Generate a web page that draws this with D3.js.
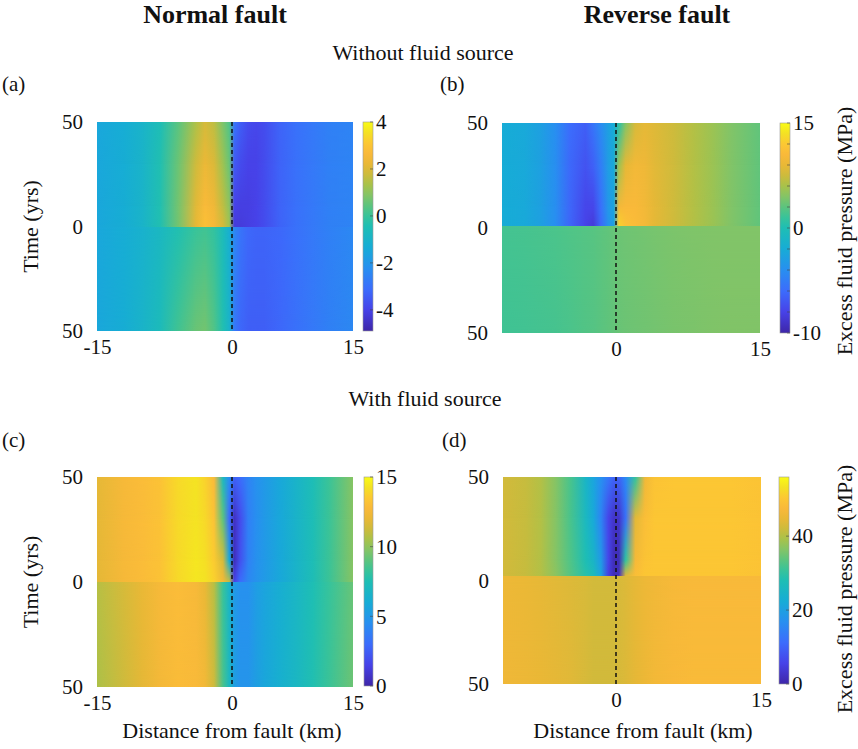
<!DOCTYPE html>
<html>
<head>
<meta charset="utf-8">
<script src="https://cdn.jsdelivr.net/npm/d3@7"></script>
<style>
  body { margin: 0; background: #fff; }
  text { font-family: "Liberation Serif", "Times New Roman", serif; fill: #111; }
</style>
</head>
<body>
<svg id="fig" width="858" height="749"></svg>
<script>
// parula colour map, [position, colour]
const parulaStops = [
  [0.0, "#3e26a8"], [0.1, "#4742e8"], [0.2, "#3c6cfc"], [0.3, "#288ff0"],
  [0.4, "#17acd6"], [0.5, "#1ebeb4"], [0.55, "#38c39a"], [0.6, "#5cc47e"],
  [0.65, "#84c466"], [0.7, "#a8c24a"], [0.75, "#cdbb3c"], [0.8, "#e9b836"],
  [0.85, "#f9b93a"], [0.9, "#fcc833"], [0.95, "#f4e124"], [1.0, "#f9fb15"]
];

// distance from fault (km) of every sampled column
const distanceKm = [-15, -12, -10, -8, -6, -4, -3, -2, -1, -0.3, 0.3, 1, 2, 3, 4, 6, 8, 10, 12, 15];

// (a) normal fault, without fluid source (MPa)
const aUpperTimes = [50, 30, 10, 0];
const aUpper = [
  [-1.5, -1.3, -1.0, -0.5, 0.4, 1.4, 1.9, 1.6, 0.8, 0.3, -2.9, -3.4, -3.8, -3.9, -3.8, -3.3, -3.0, -2.8, -2.6, -2.5],
  [-1.5, -1.3, -1.0, -0.4, 0.6, 1.8, 2.3, 2.0, 1.2, 0.6, -3.5, -3.8, -4.0, -4.0, -3.8, -3.3, -3.0, -2.8, -2.6, -2.5],
  [-1.5, -1.3, -1.0, -0.4, 0.7, 2.1, 2.7, 2.4, 1.6, 1.0, -4.0, -4.1, -4.1, -4.0, -3.8, -3.3, -3.0, -2.8, -2.6, -2.5],
  [-1.5, -1.3, -1.0, -0.4, 0.7, 2.2, 2.9, 2.6, 1.9, 1.2, -4.2, -4.2, -4.1, -4.0, -3.8, -3.3, -3.0, -2.8, -2.6, -2.5]
];
const aLowerTimes = [0, -50];
const aLower = [
  [-1.5, -1.3, -1.1, -0.8, -0.4, 0.0, 0.1, -0.1, -0.6, -1.2, -2.4, -2.9, -3.2, -3.3, -3.3, -3.2, -3.0, -2.8, -2.6, -2.4],
  [-1.5, -1.3, -1.0, -0.6, 0.1, 0.6, 0.7, 0.3, -0.4, -1.0, -2.8, -3.2, -3.4, -3.4, -3.4, -3.2, -3.0, -2.8, -2.6, -2.4]
];

// (b) reverse fault, without fluid source
const bUpperTimes = [50, 30, 10, 1];
const bUpper = [
  [-2.0, -2.2, -2.8, -4.0, -6.0, -6.6, -5.5, -4.2, -2.8, -2.0, 0.5, 4.5, 8.0, 8.8, 8.4, 7.5, 6.5, 5.5, 4.4, 3.2],
  [-2.0, -2.2, -2.8, -4.0, -6.2, -7.2, -6.5, -5.0, -3.0, -2.2, 5.5, 8.8, 9.8, 9.6, 8.6, 7.6, 6.5, 5.5, 4.4, 3.2],
  [-2.0, -2.2, -2.8, -4.0, -6.3, -7.8, -7.8, -5.8, -3.4, -2.6, 10.0, 10.5, 10.5, 9.8, 8.8, 7.6, 6.5, 5.5, 4.4, 3.2],
  [-2.0, -2.2, -2.8, -4.0, -6.4, -8.0, -8.5, -6.2, -3.8, -2.8, 12.6, 11.4, 10.8, 10.0, 8.8, 7.6, 6.5, 5.5, 4.4, 3.2]
];
const bLowerTimes = [1, -50];
const bLower = [
  [2.0, 2.1, 2.2, 2.3, 2.5, 2.7, 2.8, 3.0, 3.2, 3.4, 3.6, 3.7, 3.8, 3.9, 4.0, 4.2, 4.3, 4.4, 4.4, 4.4],
  [1.8, 1.9, 2.0, 2.1, 2.3, 2.6, 2.7, 2.9, 3.1, 3.3, 3.5, 3.6, 3.7, 3.8, 3.9, 4.1, 4.2, 4.3, 4.4, 4.4]
];

// (c) normal fault, with fluid source
const cUpperTimes = [50, 30, 10, 0];
const cUpper = [
  [11.9, 12.6, 12.9, 13.2, 14.0, 14.3, 13.8, 12.8, 7.0, 4.5, 2.6, 3.0, 4.0, 4.6, 5.0, 5.8, 6.6, 7.4, 8.3, 9.8],
  [11.9, 12.6, 12.9, 13.2, 14.0, 14.3, 14.0, 13.2, 9.0, 3.0, 0.6, 1.8, 3.8, 4.5, 5.0, 5.8, 6.6, 7.4, 8.3, 9.8],
  [11.9, 12.6, 12.9, 13.2, 14.0, 14.4, 14.2, 13.6, 11.5, 6.0, 0.5, 2.0, 3.9, 4.6, 5.0, 5.8, 6.6, 7.4, 8.3, 9.8],
  [11.9, 12.6, 12.9, 13.2, 14.0, 14.4, 14.3, 13.8, 12.5, 11.0, 1.5, 3.0, 4.2, 4.7, 5.1, 5.8, 6.6, 7.4, 8.3, 9.8]
];
const cLowerTimes = [0, -50];
const cLower = [
  [10.8, 11.5, 12.0, 12.6, 12.9, 12.6, 12.0, 10.8, 8.2, 6.7, 5.0, 4.6, 4.6, 5.2, 5.6, 6.2, 6.8, 7.5, 8.2, 9.2],
  [10.6, 11.3, 11.9, 12.5, 12.9, 12.8, 12.4, 11.3, 8.6, 7.0, 5.3, 4.8, 4.8, 5.3, 5.7, 6.3, 6.9, 7.6, 8.3, 9.3]
];

// (d) reverse fault, with fluid source
const dUpperTimes = [50, 30, 10, 2];
const dUpper = [
  [42.5, 41.5, 40, 36.5, 32, 25, 21, 17, 13, 10, 10, 16, 30, 46, 49.5, 50, 50, 50, 50, 49.5],
  [42.5, 41.5, 40, 36.5, 32, 26, 22, 15, 6, 3, 3, 12, 44, 48.5, 50, 50, 50, 50, 50, 49.5],
  [42.5, 41.5, 40, 36.5, 32.5, 28, 25, 19, 6, 1.5, 1.5, 30, 47, 49.5, 50, 50, 50, 50, 50, 49.5],
  [42.5, 41.5, 40, 37, 33, 29, 27, 21, 5, 1.5, 2, 44, 48.5, 50, 50, 50, 50, 50, 50, 49.5]
];
const dLowerTimes = [2, -50];
const dLower = [
  [45.5, 45, 44.5, 44, 43.5, 43, 42.5, 42.5, 42.5, 42.5, 43, 43.5, 44.5, 45.5, 46, 47, 47.5, 47.5, 47.5, 47.5],
  [46, 45.5, 45, 44.5, 44, 43, 42.5, 42.5, 42.5, 42.5, 43, 43.5, 44.5, 45.5, 46.5, 47.5, 48, 48, 48, 48]
];

// colour ranges and tick labels
const aDomain = [-4.9, 4], aTicks = [-4, -2, 0, 2, 4];
const bDomain = [-10, 0, 15], bTicks = [-10, 0, 15], bMinor = [-8, -6, -4, -2, 3, 6, 9, 12];
const cDomain = [0, 15], cTicks = [0, 5, 10, 15];
const dDomain = [0, 56], dTicks = [0, 20, 40];
const leftXTicks = [-15, 0, 15], rightXTicks = [0, 15];
const timeTicks = [50, 0, -50];

const panels = [
  {id: "a", left: 97, top: 122, width: 256, height: 209, zeroX: 232,
   upper: {times: aUpperTimes, rows: aUpper}, lower: {times: aLowerTimes, rows: aLower},
   domain: aDomain, cbTicks: aTicks, cbMinor: [], xTicks: leftXTicks,
   cbX: 363, cbW: 10, cbTop: 122, cbBottom: 331, yLabel: true, cbLabel: false, xLabel: false},
  {id: "b", left: 502, top: 123, width: 258, height: 210, zeroX: 616,
   upper: {times: bUpperTimes, rows: bUpper}, lower: {times: bLowerTimes, rows: bLower},
   domain: bDomain, cbTicks: bTicks, cbMinor: bMinor, xTicks: rightXTicks,
   cbX: 780, cbW: 10, cbTop: 123, cbBottom: 333, yLabel: false, cbLabel: true, cbLabelY: 231, xLabel: false},
  {id: "c", left: 97, top: 477, width: 256, height: 210, zeroX: 232,
   upper: {times: cUpperTimes, rows: cUpper}, lower: {times: cLowerTimes, rows: cLower},
   domain: cDomain, cbTicks: cTicks, cbMinor: [], xTicks: leftXTicks,
   cbX: 364, cbW: 9, cbTop: 477, cbBottom: 686, yLabel: true, cbLabel: false, xLabel: true, xLabelX: 232},
  {id: "d", left: 503, top: 477, width: 258, height: 207, zeroX: 616,
   upper: {times: dUpperTimes, rows: dUpper}, lower: {times: dLowerTimes, rows: dLower},
   domain: dDomain, cbTicks: dTicks, cbMinor: [], xTicks: rightXTicks,
   cbX: 779, cbW: 10, cbTop: 477, cbBottom: 684, yLabel: false, cbLabel: true, cbLabelY: 589, xLabel: true, xLabelX: 643}
];

const svg = d3.select("#fig");
const defs = svg.append("defs");

const parula = d3.scaleLinear()
  .domain(parulaStops.map(d => d[0]))
  .range(parulaStops.map(d => d[1]))
  .interpolate(d3.interpolateRgb)
  .clamp(true);

// vertical fade mask, blends a time row into the next one
const fade = defs.append("linearGradient").attr("id", "fade")
  .attr("x1", 0).attr("y1", 0).attr("x2", 0).attr("y2", 1);
fade.append("stop").attr("offset", 0).attr("stop-color", "#fff");
fade.append("stop").attr("offset", 1).attr("stop-color", "#000");
defs.append("mask").attr("id", "fadeMask").attr("maskContentUnits", "objectBoundingBox")
  .append("rect").attr("width", 1).attr("height", 1).attr("fill", "url(#fade)");

// colour bar gradient (bottom -> top)
const cbGrad = defs.append("linearGradient").attr("id", "cbgrad")
  .attr("x1", 0).attr("y1", 1).attr("x2", 0).attr("y2", 0);
cbGrad.selectAll("stop").data(parulaStops).join("stop")
  .attr("offset", d => d[0]).attr("stop-color", d => d[1]);

const serif = "'Liberation Serif', 'Times New Roman', serif";

panels.forEach(p => {
  const g = svg.append("g").attr("transform", `translate(${p.left},${p.top})`);

  const x = d3.scaleLinear().domain([-15, 0, 15]).range([0, p.zeroX - p.left, p.width]);
  const y = d3.scaleLinear().domain([50, -50]).range([0, p.height]);
  const fracRange = p.domain.length === 3 ? [0, 0.5, 1] : [0, 1];
  const frac = d3.scaleLinear().domain(p.domain).range(fracRange).clamp(true);
  const color = v => parula(frac(v));

  [p.upper, p.lower].forEach((half, hi) => {
    half.rows.forEach((row, ri) => {
      const lg = defs.append("linearGradient").attr("id", `row-${p.id}-${hi}-${ri}`);
      lg.selectAll("stop").data(row).join("stop")
        .attr("offset", (v, j) => x(distanceKm[j]) / p.width)
        .attr("stop-color", v => color(v));
    });

    d3.pairs(half.times).forEach(([t0, t1], i) => {
      const y0 = Math.round(y(t0)), y1 = Math.round(y(t1));
      g.append("rect")
        .attr("x", 0).attr("y", y0).attr("width", p.width).attr("height", y1 - y0)
        .attr("shape-rendering", "crispEdges")
        .attr("fill", `url(#row-${p.id}-${hi}-${i + 1})`);
      g.append("rect")
        .attr("x", 0).attr("y", y0).attr("width", p.width).attr("height", y1 - y0)
        .attr("shape-rendering", "crispEdges")
        .attr("fill", `url(#row-${p.id}-${hi}-${i})`)
        .attr("mask", "url(#fadeMask)");
    });
  });

  // fault trace
  g.append("line")
    .attr("x1", x(0)).attr("x2", x(0)).attr("y1", 0).attr("y2", p.height)
    .attr("stroke", "#111").attr("stroke-width", 1.5).attr("stroke-dasharray", "4,3");

  // axes, labels only
  const yAxis = g.append("g")
    .call(d3.axisLeft(y).tickValues(timeTicks).tickFormat(d => Math.abs(d)).tickSize(0).tickPadding(14));
  const xAxis = g.append("g").attr("transform", `translate(0,${p.height})`)
    .call(d3.axisBottom(x).tickValues(p.xTicks).tickFormat(d => String(d)).tickSize(0).tickPadding(8));
  [yAxis, xAxis].forEach(a => {
    a.attr("font-family", serif);
    a.select(".domain").remove();
    a.selectAll("text").attr("font-size", 21).attr("fill", "#111");
  });

  if (p.yLabel) {
    svg.append("text")
      .attr("transform", `translate(38,${p.top + p.height / 2}) rotate(-90)`)
      .attr("text-anchor", "middle").attr("font-size", 22)
      .text("Time (yrs)");
  }
  if (p.xLabel) {
    svg.append("text")
      .attr("x", p.xLabelX).attr("y", 738)
      .attr("text-anchor", "middle").attr("font-size", 22)
      .text("Distance from fault (km)");
  }

  // colour bar
  const cbH = p.cbBottom - p.cbTop;
  const cb = svg.append("g").attr("transform", `translate(${p.cbX},${p.cbTop})`);
  cb.append("rect").attr("width", p.cbW).attr("height", cbH)
    .attr("fill", "url(#cbgrad)").attr("stroke", "#999").attr("stroke-width", 0.6);
  const cbScale = d3.scaleLinear().domain(p.domain).range(fracRange.map(f => cbH * (1 - f)));
  cb.selectAll("line.tk").data(p.cbTicks.concat(p.cbMinor)).join("line")
    .attr("class", "tk")
    .attr("x1", p.cbW - 3).attr("x2", p.cbW)
    .attr("y1", d => cbScale(d)).attr("y2", d => cbScale(d))
    .attr("stroke", "#444").attr("stroke-width", 0.6);
  const cbAxis = cb.append("g").attr("transform", `translate(${p.cbW},0)`)
    .call(d3.axisRight(cbScale).tickValues(p.cbTicks).tickFormat(d => String(d)).tickSize(0).tickPadding(3));
  cbAxis.attr("font-family", serif);
  cbAxis.select(".domain").remove();
  cbAxis.selectAll("text").attr("font-size", 21).attr("fill", "#111");

  if (p.cbLabel) {
    svg.append("text")
      .attr("transform", `translate(852,${p.cbLabelY}) rotate(-90)`)
      .attr("text-anchor", "middle").attr("font-size", 22)
      .text("Excess fluid pressure (MPa)");
  }
});

// titles and panel letters
svg.append("text").attr("x", 215).attr("y", 23).attr("text-anchor", "middle")
  .attr("font-size", 26).attr("font-weight", "bold").text("Normal fault");
svg.append("text").attr("x", 657).attr("y", 23).attr("text-anchor", "middle")
  .attr("font-size", 26).attr("font-weight", "bold").text("Reverse fault");
svg.append("text").attr("x", 423).attr("y", 60).attr("text-anchor", "middle")
  .attr("font-size", 22).text("Without fluid source");
svg.append("text").attr("x", 425).attr("y", 406).attr("text-anchor", "middle")
  .attr("font-size", 22).text("With fluid source");

const letters = [
  {t: "(a)", x: 2, y: 91}, {t: "(b)", x: 440, y: 91},
  {t: "(c)", x: 2, y: 447}, {t: "(d)", x: 442, y: 447}
];
svg.selectAll("text.letter").data(letters).join("text")
  .attr("class", "letter").attr("x", d => d.x).attr("y", d => d.y)
  .attr("font-size", 21).text(d => d.t);
</script>
</body>
</html>
